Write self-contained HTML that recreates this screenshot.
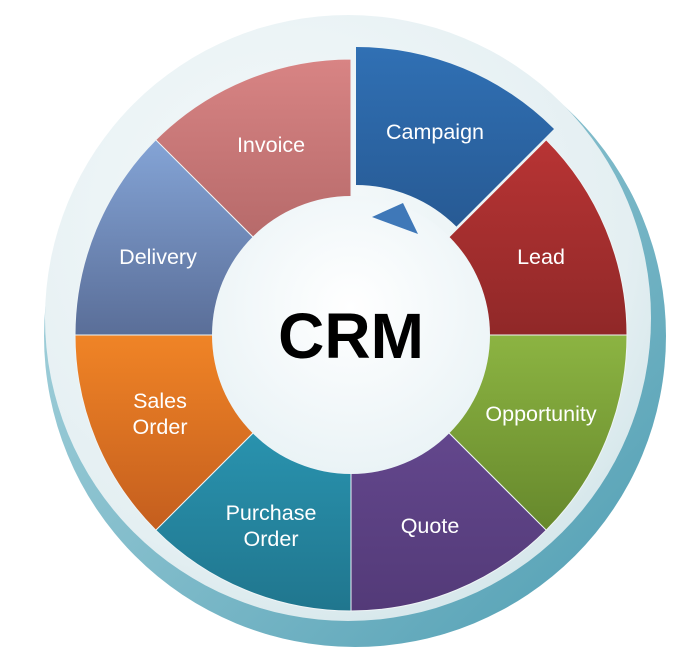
<!DOCTYPE html>
<html><head><meta charset="utf-8"><style>
html,body{margin:0;padding:0;background:#fff;}
svg{display:block;}
text{font-family:"Liberation Sans",sans-serif;fill:#fff;font-size:21.5px;text-anchor:middle;}
</style></head><body>
<svg width="700" height="670" viewBox="0 0 700 670" xmlns="http://www.w3.org/2000/svg">
<defs>
<radialGradient id="disc" cx="0.4" cy="0.35" r="0.7">
<stop offset="0" stop-color="#f6fafb"/><stop offset="0.8" stop-color="#e4eff2"/><stop offset="1" stop-color="#d4e6ea"/></radialGradient>
<linearGradient id="teal" x1="0" y1="0" x2="1" y2="1"><stop offset="0" stop-color="#b6dce4"/><stop offset="1" stop-color="#4e9db2"/></linearGradient>
<linearGradient id="gInv" x1="0" y1="0" x2="0" y2="1"><stop offset="0" stop-color="#d88484"/><stop offset="1" stop-color="#a45c5c"/></linearGradient>
<linearGradient id="gCam" x1="0" y1="0" x2="0" y2="1"><stop offset="0" stop-color="#3070b4"/><stop offset="1" stop-color="#275a94"/></linearGradient>
<linearGradient id="gLead" x1="0" y1="0" x2="0" y2="1"><stop offset="0" stop-color="#b83434"/><stop offset="1" stop-color="#902828"/></linearGradient>
<linearGradient id="gOpp" x1="0" y1="0" x2="0" y2="1"><stop offset="0" stop-color="#8cb442"/><stop offset="1" stop-color="#66882c"/></linearGradient>
<linearGradient id="gQuo" x1="0" y1="0" x2="0" y2="1"><stop offset="0" stop-color="#6c4e98"/><stop offset="1" stop-color="#533a78"/></linearGradient>
<linearGradient id="gPO" x1="0" y1="0" x2="0" y2="1"><stop offset="0" stop-color="#2ea2c0"/><stop offset="1" stop-color="#20768e"/></linearGradient>
<linearGradient id="gSO" x1="0" y1="0" x2="0" y2="1"><stop offset="0" stop-color="#f08426"/><stop offset="1" stop-color="#c45e1e"/></linearGradient>
<linearGradient id="gDel" x1="0" y1="0" x2="0" y2="1"><stop offset="0" stop-color="#84a4d6"/><stop offset="1" stop-color="#5a6e98"/></linearGradient>
<radialGradient id="cen" cx="0.5" cy="0.4" r="0.6"><stop offset="0" stop-color="#ffffff"/><stop offset="1" stop-color="#eaf3f6"/></radialGradient>
</defs>
<circle cx="355" cy="336" r="311" fill="url(#teal)"/>
<circle cx="348" cy="318" r="303" fill="url(#disc)"/>
<g stroke="#eef4f6" stroke-width="1">
<path d="M351,335 L546.2,139.8 A276,276 0 0 1 627,335 Z" fill="url(#gLead)"/>
<path d="M351,335 L627,335 A276,276 0 0 1 546.2,530.2 Z" fill="url(#gOpp)"/>
<path d="M351,335 L546.2,530.2 A276,276 0 0 1 351,611 Z" fill="url(#gQuo)"/>
<path d="M351,335 L351,611 A276,276 0 0 1 155.8,530.2 Z" fill="url(#gPO)"/>
<path d="M351,335 L155.8,530.2 A276,276 0 0 1 75,335 Z" fill="url(#gSO)"/>
<path d="M351,335 L75,335 A276,276 0 0 1 155.8,139.8 Z" fill="url(#gDel)"/>
<path d="M351,335 L155.8,139.8 A276,276 0 0 1 351,59 Z" fill="url(#gInv)"/>
</g>
<circle cx="351" cy="335" r="139" fill="url(#cen)"/>
<path d="M356,47 A280,280 0 0 1 554,129 L456.4,226.6 A142,142 0 0 0 356,185 Z" fill="url(#gCam)"/>
<polygon points="372,217 403,203 418,234" fill="#3f78b8"/>
<text x="271" y="152">Invoice</text>
<text x="435" y="139">Campaign</text>
<text x="541" y="264">Lead</text>
<text x="158" y="264">Delivery</text>
<text x="541" y="421">Opportunity</text>
<text x="160" y="408">Sales</text>
<text x="160" y="434">Order</text>
<text x="271" y="520">Purchase</text>
<text x="271" y="546">Order</text>
<text x="430" y="533">Quote</text>
<text x="351" y="358" style="fill:#000;font-weight:bold;font-size:64px">CRM</text>
</svg>
</body></html>
